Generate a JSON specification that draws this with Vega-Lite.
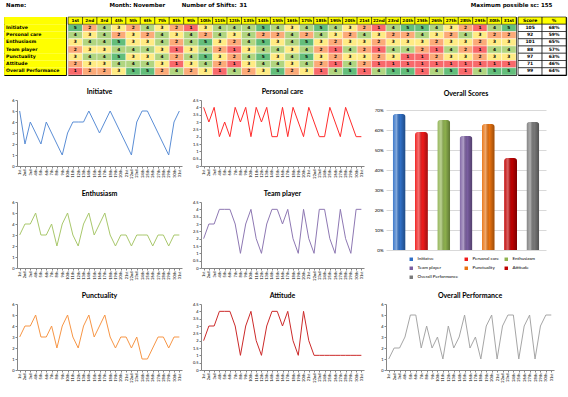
{
"$schema": "https://vega.github.io/schema/vega-lite/v6.json",
"padding": {"left": 3, "top": 1, "right": 3, "bottom": 0},
"background": "#ffffff",
"config": {
  "view": {"stroke": null},
  "font": "Lato",
  "title": {"font": "Lato", "fontWeight": "bold", "fontSize": 7, "color": "#000000", "offset": 3},
  "axis": {"labelFont": "Lato", "labelFontSize": 4, "labelColor": "#000000", "domainColor": "#868686", "tickColor": "#868686", "tickSize": 2, "labelPadding": 1, "grid": false, "labelOverlap": false}
},
"datasets": {
  "days": [{"day":"1st"},{"day":"2nd"},{"day":"3rd"},{"day":"4th"},{"day":"5th"},{"day":"6th"},{"day":"7th"},{"day":"8th"},{"day":"9th"},{"day":"10th"},{"day":"11th"},{"day":"12th"},{"day":"13th"},{"day":"14th"},{"day":"15th"},{"day":"16th"},{"day":"17th"},{"day":"18th"},{"day":"19th"},{"day":"20th"},{"day":"21st"},{"day":"22nd"},{"day":"23rd"},{"day":"24th"},{"day":"25th"},{"day":"26th"},{"day":"27th"},{"day":"28th"},{"day":"29th"},{"day":"30th"},{"day":"31st"}],
  "summary": [
    {"metric":"Initiatve","score":105,"share":0.68},
    {"metric":"Personal care","score":92,"share":0.59},
    {"metric":"Enthusiasm","score":101,"share":0.65},
    {"metric":"Team player","score":88,"share":0.57},
    {"metric":"Punctuality","score":97,"share":0.63},
    {"metric":"Attitude","score":71,"share":0.46},
    {"metric":"Overall Performance","score":99,"share":0.64}
  ],
  "scores": [
{"metric":"Initiatve","day":"1st","value":5},{"metric":"Initiatve","day":"2nd","value":2},{"metric":"Initiatve","day":"3rd","value":4},{"metric":"Initiatve","day":"4th","value":3},{"metric":"Initiatve","day":"5th","value":2},{"metric":"Initiatve","day":"6th","value":4},{"metric":"Initiatve","day":"7th","value":3},{"metric":"Initiatve","day":"8th","value":2},{"metric":"Initiatve","day":"9th","value":1},{"metric":"Initiatve","day":"10th","value":3},{"metric":"Initiatve","day":"11th","value":4},{"metric":"Initiatve","day":"12th","value":4},{"metric":"Initiatve","day":"13th","value":4},{"metric":"Initiatve","day":"14th","value":5},{"metric":"Initiatve","day":"15th","value":4},{"metric":"Initiatve","day":"16th","value":3},{"metric":"Initiatve","day":"17th","value":4},{"metric":"Initiatve","day":"18th","value":5},{"metric":"Initiatve","day":"19th","value":4},{"metric":"Initiatve","day":"20th","value":3},{"metric":"Initiatve","day":"21st","value":2},{"metric":"Initiatve","day":"22nd","value":1},{"metric":"Initiatve","day":"23rd","value":4},{"metric":"Initiatve","day":"24th","value":5},{"metric":"Initiatve","day":"25th","value":5},{"metric":"Initiatve","day":"26th","value":4},{"metric":"Initiatve","day":"27th","value":3},{"metric":"Initiatve","day":"28th","value":2},{"metric":"Initiatve","day":"29th","value":1},{"metric":"Initiatve","day":"30th","value":4},{"metric":"Initiatve","day":"31st","value":5},
{"metric":"Personal care","day":"1st","value":4},{"metric":"Personal care","day":"2nd","value":3},{"metric":"Personal care","day":"3rd","value":4},{"metric":"Personal care","day":"4th","value":2},{"metric":"Personal care","day":"5th","value":3},{"metric":"Personal care","day":"6th","value":2},{"metric":"Personal care","day":"7th","value":4},{"metric":"Personal care","day":"8th","value":3},{"metric":"Personal care","day":"9th","value":4},{"metric":"Personal care","day":"10th","value":2},{"metric":"Personal care","day":"11th","value":4},{"metric":"Personal care","day":"12th","value":3},{"metric":"Personal care","day":"13th","value":4},{"metric":"Personal care","day":"14th","value":2},{"metric":"Personal care","day":"15th","value":2},{"metric":"Personal care","day":"16th","value":4},{"metric":"Personal care","day":"17th","value":2},{"metric":"Personal care","day":"18th","value":4},{"metric":"Personal care","day":"19th","value":3},{"metric":"Personal care","day":"20th","value":2},{"metric":"Personal care","day":"21st","value":4},{"metric":"Personal care","day":"22nd","value":3},{"metric":"Personal care","day":"23rd","value":2},{"metric":"Personal care","day":"24th","value":2},{"metric":"Personal care","day":"25th","value":4},{"metric":"Personal care","day":"26th","value":3},{"metric":"Personal care","day":"27th","value":2},{"metric":"Personal care","day":"28th","value":4},{"metric":"Personal care","day":"29th","value":3},{"metric":"Personal care","day":"30th","value":2},{"metric":"Personal care","day":"31st","value":2},
{"metric":"Enthusiasm","day":"1st","value":3},{"metric":"Enthusiasm","day":"2nd","value":4},{"metric":"Enthusiasm","day":"3rd","value":4},{"metric":"Enthusiasm","day":"4th","value":5},{"metric":"Enthusiasm","day":"5th","value":3},{"metric":"Enthusiasm","day":"6th","value":3},{"metric":"Enthusiasm","day":"7th","value":4},{"metric":"Enthusiasm","day":"8th","value":2},{"metric":"Enthusiasm","day":"9th","value":4},{"metric":"Enthusiasm","day":"10th","value":5},{"metric":"Enthusiasm","day":"11th","value":3},{"metric":"Enthusiasm","day":"12th","value":2},{"metric":"Enthusiasm","day":"13th","value":4},{"metric":"Enthusiasm","day":"14th","value":5},{"metric":"Enthusiasm","day":"15th","value":3},{"metric":"Enthusiasm","day":"16th","value":4},{"metric":"Enthusiasm","day":"17th","value":5},{"metric":"Enthusiasm","day":"18th","value":3},{"metric":"Enthusiasm","day":"19th","value":2},{"metric":"Enthusiasm","day":"20th","value":3},{"metric":"Enthusiasm","day":"21st","value":3},{"metric":"Enthusiasm","day":"22nd","value":2},{"metric":"Enthusiasm","day":"23rd","value":3},{"metric":"Enthusiasm","day":"24th","value":3},{"metric":"Enthusiasm","day":"25th","value":3},{"metric":"Enthusiasm","day":"26th","value":2},{"metric":"Enthusiasm","day":"27th","value":3},{"metric":"Enthusiasm","day":"28th","value":3},{"metric":"Enthusiasm","day":"29th","value":2},{"metric":"Enthusiasm","day":"30th","value":3},{"metric":"Enthusiasm","day":"31st","value":3},
{"metric":"Team player","day":"1st","value":2},{"metric":"Team player","day":"2nd","value":3},{"metric":"Team player","day":"3rd","value":3},{"metric":"Team player","day":"4th","value":4},{"metric":"Team player","day":"5th","value":4},{"metric":"Team player","day":"6th","value":4},{"metric":"Team player","day":"7th","value":3},{"metric":"Team player","day":"8th","value":1},{"metric":"Team player","day":"9th","value":3},{"metric":"Team player","day":"10th","value":4},{"metric":"Team player","day":"11th","value":2},{"metric":"Team player","day":"12th","value":1},{"metric":"Team player","day":"13th","value":3},{"metric":"Team player","day":"14th","value":4},{"metric":"Team player","day":"15th","value":4},{"metric":"Team player","day":"16th","value":3},{"metric":"Team player","day":"17th","value":4},{"metric":"Team player","day":"18th","value":2},{"metric":"Team player","day":"19th","value":1},{"metric":"Team player","day":"20th","value":4},{"metric":"Team player","day":"21st","value":2},{"metric":"Team player","day":"22nd","value":1},{"metric":"Team player","day":"23rd","value":4},{"metric":"Team player","day":"24th","value":4},{"metric":"Team player","day":"25th","value":2},{"metric":"Team player","day":"26th","value":1},{"metric":"Team player","day":"27th","value":4},{"metric":"Team player","day":"28th","value":2},{"metric":"Team player","day":"29th","value":1},{"metric":"Team player","day":"30th","value":4},{"metric":"Team player","day":"31st","value":4},
{"metric":"Punctuality","day":"1st","value":3},{"metric":"Punctuality","day":"2nd","value":4},{"metric":"Punctuality","day":"3rd","value":4},{"metric":"Punctuality","day":"4th","value":5},{"metric":"Punctuality","day":"5th","value":3},{"metric":"Punctuality","day":"6th","value":3},{"metric":"Punctuality","day":"7th","value":4},{"metric":"Punctuality","day":"8th","value":2},{"metric":"Punctuality","day":"9th","value":4},{"metric":"Punctuality","day":"10th","value":5},{"metric":"Punctuality","day":"11th","value":3},{"metric":"Punctuality","day":"12th","value":2},{"metric":"Punctuality","day":"13th","value":4},{"metric":"Punctuality","day":"14th","value":5},{"metric":"Punctuality","day":"15th","value":3},{"metric":"Punctuality","day":"16th","value":4},{"metric":"Punctuality","day":"17th","value":5},{"metric":"Punctuality","day":"18th","value":3},{"metric":"Punctuality","day":"19th","value":2},{"metric":"Punctuality","day":"20th","value":3},{"metric":"Punctuality","day":"21st","value":3},{"metric":"Punctuality","day":"22nd","value":2},{"metric":"Punctuality","day":"23rd","value":3},{"metric":"Punctuality","day":"24th","value":1},{"metric":"Punctuality","day":"25th","value":1},{"metric":"Punctuality","day":"26th","value":2},{"metric":"Punctuality","day":"27th","value":3},{"metric":"Punctuality","day":"28th","value":3},{"metric":"Punctuality","day":"29th","value":2},{"metric":"Punctuality","day":"30th","value":3},{"metric":"Punctuality","day":"31st","value":3},
{"metric":"Attitude","day":"1st","value":2},{"metric":"Attitude","day":"2nd","value":3},{"metric":"Attitude","day":"3rd","value":3},{"metric":"Attitude","day":"4th","value":4},{"metric":"Attitude","day":"5th","value":4},{"metric":"Attitude","day":"6th","value":4},{"metric":"Attitude","day":"7th","value":3},{"metric":"Attitude","day":"8th","value":1},{"metric":"Attitude","day":"9th","value":3},{"metric":"Attitude","day":"10th","value":4},{"metric":"Attitude","day":"11th","value":2},{"metric":"Attitude","day":"12th","value":1},{"metric":"Attitude","day":"13th","value":3},{"metric":"Attitude","day":"14th","value":4},{"metric":"Attitude","day":"15th","value":4},{"metric":"Attitude","day":"16th","value":3},{"metric":"Attitude","day":"17th","value":4},{"metric":"Attitude","day":"18th","value":2},{"metric":"Attitude","day":"19th","value":1},{"metric":"Attitude","day":"20th","value":4},{"metric":"Attitude","day":"21st","value":2},{"metric":"Attitude","day":"22nd","value":1},{"metric":"Attitude","day":"23rd","value":1},{"metric":"Attitude","day":"24th","value":1},{"metric":"Attitude","day":"25th","value":1},{"metric":"Attitude","day":"26th","value":1},{"metric":"Attitude","day":"27th","value":1},{"metric":"Attitude","day":"28th","value":1},{"metric":"Attitude","day":"29th","value":1},{"metric":"Attitude","day":"30th","value":1},{"metric":"Attitude","day":"31st","value":1},
{"metric":"Overall Performance","day":"1st","value":1},{"metric":"Overall Performance","day":"2nd","value":2},{"metric":"Overall Performance","day":"3rd","value":2},{"metric":"Overall Performance","day":"4th","value":3},{"metric":"Overall Performance","day":"5th","value":5},{"metric":"Overall Performance","day":"6th","value":5},{"metric":"Overall Performance","day":"7th","value":2},{"metric":"Overall Performance","day":"8th","value":4},{"metric":"Overall Performance","day":"9th","value":2},{"metric":"Overall Performance","day":"10th","value":3},{"metric":"Overall Performance","day":"11th","value":1},{"metric":"Overall Performance","day":"12th","value":4},{"metric":"Overall Performance","day":"13th","value":2},{"metric":"Overall Performance","day":"14th","value":3},{"metric":"Overall Performance","day":"15th","value":5},{"metric":"Overall Performance","day":"16th","value":2},{"metric":"Overall Performance","day":"17th","value":3},{"metric":"Overall Performance","day":"18th","value":1},{"metric":"Overall Performance","day":"19th","value":4},{"metric":"Overall Performance","day":"20th","value":5},{"metric":"Overall Performance","day":"21st","value":1},{"metric":"Overall Performance","day":"22nd","value":4},{"metric":"Overall Performance","day":"23rd","value":5},{"metric":"Overall Performance","day":"24th","value":5},{"metric":"Overall Performance","day":"25th","value":1},{"metric":"Overall Performance","day":"26th","value":4},{"metric":"Overall Performance","day":"27th","value":5},{"metric":"Overall Performance","day":"28th","value":1},{"metric":"Overall Performance","day":"29th","value":4},{"metric":"Overall Performance","day":"30th","value":5},{"metric":"Overall Performance","day":"31st","value":5}
  ]
},
"resolve": {"scale": {"color": "independent", "fill": "independent"}, "legend": {"color": "independent", "fill": "independent"}},
"center": true,
"spacing": 12,
"vconcat": [
 {"spacing": 7, "vconcat": [
   {"spacing": 0, "hconcat": [
     {"width": 62, "height": 8, "data": {"values": [{"t": "Name:"}]},
      "mark": {"type": "text", "align": "left", "baseline": "middle", "font": "DejaVu Sans", "fontWeight": "bold", "fontSize": 5.5, "dx": 2},
      "encoding": {"text": {"field": "t"}, "x": {"datum": "c", "type": "nominal", "scale": {"type": "band", "domain": ["c"], "padding": 0}, "bandPosition": 0, "axis": null}}},
     {"width": 448, "height": 8,
      "data": {"values": [{"day": "4th", "t": "Month: November"}, {"day": "9th", "t": "Number of Shifts:"}, {"day": "13th", "t": "31"}, {"day": "29th", "t": "Maximum possible sc: 155"}]},
      "mark": {"type": "text", "align": "left", "baseline": "middle", "font": "DejaVu Sans", "fontWeight": "bold", "fontSize": 5.5},
      "encoding": {"text": {"field": "t"}, "x": {"field": "day", "type": "ordinal", "scale": {"type": "band", "domain": ["1st","2nd","3rd","4th","5th","6th","7th","8th","9th","10th","11th","12th","13th","14th","15th","16th","17th","18th","19th","20th","21st","22nd","23rd","24th","25th","26th","27th","28th","29th","30th","31st"], "padding": 0}, "bandPosition": 0, "axis": null}}}
   ]},
   {"spacing": 0, "hconcat": [
     {"width": 62, "height": 58, "view": {"stroke": "#000000", "strokeWidth": 1},
      "data": {"values": [{"row": "hdr", "label": ""}, {"row": "Initiatve", "label": "Initiatve"}, {"row": "Personal care", "label": "Personal care"}, {"row": "Enthusiasm", "label": "Enthusiasm"}, {"row": "Team player", "label": "Team player"}, {"row": "Punctuality", "label": "Punctuality"}, {"row": "Attitude", "label": "Attitude"}, {"row": "Overall Performance", "label": "Overall Performance"}]},
      "encoding": {
        "y": {"field": "row", "type": "nominal", "scale": {"type": "band", "domain": ["hdr","Initiatve","Personal care","Enthusiasm","Team player","Punctuality","Attitude","Overall Performance"], "padding": 0}, "axis": null},
        "x": {"datum": "c", "type": "nominal", "scale": {"type": "band", "domain": ["c"], "padding": 0}, "bandPosition": 0, "axis": null}
      },
      "layer": [
        {"mark": {"type": "rect", "fill": "#ffff00"}, "encoding": {"x": {"datum": "c", "type": "nominal"}}},
        {"mark": {"type": "text", "align": "left", "baseline": "middle", "font": "DejaVu Sans", "fontWeight": "bold", "fontSize": 4.6, "dx": 2, "color": "#000000"}, "encoding": {"text": {"field": "label"}}}
      ]},
     {"width": 448, "height": 58, "view": {"stroke": "#000000", "strokeWidth": 1},
      "layer": [
        {"data": {"name": "scores"},
         "mark": {"type": "rect", "stroke": "#ffffff", "strokeWidth": 0.4},
         "encoding": {
           "x": {"field": "day", "type": "ordinal", "scale": {"type": "band", "domain": ["1st","2nd","3rd","4th","5th","6th","7th","8th","9th","10th","11th","12th","13th","14th","15th","16th","17th","18th","19th","20th","21st","22nd","23rd","24th","25th","26th","27th","28th","29th","30th","31st"], "padding": 0}, "axis": null},
           "y": {"field": "metric", "type": "nominal", "scale": {"type": "band", "domain": ["hdr","Initiatve","Personal care","Enthusiasm","Team player","Punctuality","Attitude","Overall Performance"], "padding": 0}, "axis": null},
           "fill": {"field": "value", "type": "quantitative", "scale": {"domain": [1, 3, 5], "range": ["#f8696b", "#ffeb84", "#63be7b"], "interpolate": "rgb"}, "legend": null}
         }},
        {"data": {"name": "scores"},
         "mark": {"type": "text", "font": "DejaVu Sans", "fontWeight": "bold", "fontSize": 4.3, "color": "#000000", "baseline": "middle"},
         "encoding": {
           "x": {"field": "day", "type": "ordinal"},
           "y": {"field": "metric", "type": "nominal"},
           "text": {"field": "value", "type": "quantitative"}
         }},
        {"data": {"name": "days"},
         "mark": {"type": "rect", "fill": "#ffff00", "stroke": "#000000", "strokeWidth": 0.5},
         "encoding": {"x": {"field": "day", "type": "ordinal"}, "y": {"datum": "hdr", "type": "nominal"}}},
        {"data": {"name": "days"},
         "mark": {"type": "text", "font": "DejaVu Sans", "fontWeight": "bold", "fontSize": 4.2, "color": "#000000", "baseline": "middle"},
         "encoding": {"x": {"field": "day", "type": "ordinal"}, "y": {"datum": "hdr", "type": "nominal"}, "text": {"field": "day"}}}
      ]},
     {"width": 48, "height": 58, "view": {"stroke": "#000000", "strokeWidth": 1},
      "layer": [
        {"data": {"values": [{"col": "Score"}, {"col": "%"}]},
         "mark": {"type": "rect", "fill": "#ffff00", "stroke": "#000000", "strokeWidth": 0.6},
         "encoding": {
           "x": {"field": "col", "type": "nominal", "scale": {"type": "band", "domain": ["Score", "%"], "padding": 0}, "axis": null},
           "y": {"datum": "hdr", "type": "nominal", "scale": {"type": "band", "domain": ["hdr","Initiatve","Personal care","Enthusiasm","Team player","Punctuality","Attitude","Overall Performance"], "padding": 0}, "axis": null}
         }},
        {"data": {"values": [{"col": "Score"}, {"col": "%"}]},
         "mark": {"type": "text", "font": "DejaVu Sans", "fontWeight": "bold", "fontSize": 4.5, "color": "#000000", "baseline": "middle"},
         "encoding": {"x": {"field": "col", "type": "nominal"}, "y": {"datum": "hdr", "type": "nominal"}, "text": {"field": "col"}}},
        {"data": {"name": "summary"},
         "mark": {"type": "rect", "fill": "#ffffff", "stroke": "#000000", "strokeWidth": 0.6},
         "encoding": {"x": {"datum": "Score", "type": "nominal"}, "y": {"field": "metric", "type": "nominal"}}},
        {"data": {"name": "summary"},
         "mark": {"type": "rect", "fill": "#ffffff", "stroke": "#000000", "strokeWidth": 0.6},
         "encoding": {"x": {"datum": "%", "type": "nominal"}, "y": {"field": "metric", "type": "nominal"}}},
        {"data": {"name": "summary"},
         "mark": {"type": "text", "font": "DejaVu Sans", "fontWeight": "bold", "fontSize": 4.5, "color": "#000000", "baseline": "middle"},
         "encoding": {"x": {"datum": "Score", "type": "nominal"}, "y": {"field": "metric", "type": "nominal"}, "text": {"field": "score", "type": "quantitative"}}},
        {"data": {"name": "summary"},
         "mark": {"type": "text", "font": "DejaVu Sans", "fontWeight": "bold", "fontSize": 4.5, "color": "#000000", "baseline": "middle"},
         "encoding": {"x": {"datum": "%", "type": "nominal"}, "y": {"field": "metric", "type": "nominal"}, "text": {"field": "share", "type": "quantitative", "format": ".0%"}}}
      ]}
   ]}
 ]},
 {"spacing": 10, "resolve": {"scale": {"color": "independent"}, "legend": {"color": "independent"}}, "hconcat": [
   {"spacing": 11, "vconcat": [
     {"title": "Initiatve", "width": 165, "height": 66, "data": {"name": "scores"}, "transform": [{"filter": "datum.metric === 'Initiatve'"}],
      "mark": {"type": "line", "color": "#5b8ed6", "strokeWidth": 1},
      "encoding": {
        "x": {"field": "day", "type": "ordinal", "scale": {"type": "point", "domain": ["1st","2nd","3rd","4th","5th","6th","7th","8th","9th","10th","11th","12th","13th","14th","15th","16th","17th","18th","19th","20th","21st","22nd","23rd","24th","25th","26th","27th","28th","29th","30th","31st"], "padding": 0.5}, "axis": {"labelAngle": -90, "title": null}},
        "y": {"field": "value", "type": "quantitative", "scale": {"domain": [0, 6], "nice": false}, "axis": {"values": [0,1,2,3,4,5,6], "format": "~g", "title": null}}
      }},
     {"title": "Enthusiasm", "width": 165, "height": 66, "data": {"name": "scores"}, "transform": [{"filter": "datum.metric === 'Enthusiasm'"}],
      "mark": {"type": "line", "color": "#a9c86c", "strokeWidth": 1},
      "encoding": {
        "x": {"field": "day", "type": "ordinal", "scale": {"type": "point", "domain": ["1st","2nd","3rd","4th","5th","6th","7th","8th","9th","10th","11th","12th","13th","14th","15th","16th","17th","18th","19th","20th","21st","22nd","23rd","24th","25th","26th","27th","28th","29th","30th","31st"], "padding": 0.5}, "axis": {"labelAngle": -90, "title": null}},
        "y": {"field": "value", "type": "quantitative", "scale": {"domain": [0, 6], "nice": false}, "axis": {"values": [0,1,2,3,4,5,6], "format": "~g", "title": null}}
      }},
     {"title": "Punctuality", "width": 165, "height": 66, "data": {"name": "scores"}, "transform": [{"filter": "datum.metric === 'Punctuality'"}],
      "mark": {"type": "line", "color": "#f79646", "strokeWidth": 1},
      "encoding": {
        "x": {"field": "day", "type": "ordinal", "scale": {"type": "point", "domain": ["1st","2nd","3rd","4th","5th","6th","7th","8th","9th","10th","11th","12th","13th","14th","15th","16th","17th","18th","19th","20th","21st","22nd","23rd","24th","25th","26th","27th","28th","29th","30th","31st"], "padding": 0.5}, "axis": {"labelAngle": -90, "title": null}},
        "y": {"field": "value", "type": "quantitative", "scale": {"domain": [0, 6], "nice": false}, "axis": {"values": [0,1,2,3,4,5,6], "format": "~g", "title": null}}
      }}
   ]},
   {"spacing": 11, "vconcat": [
     {"title": "Personal care", "width": 163, "height": 66, "data": {"name": "scores"}, "transform": [{"filter": "datum.metric === 'Personal care'"}],
      "mark": {"type": "line", "color": "#ff2b2b", "strokeWidth": 1},
      "encoding": {
        "x": {"field": "day", "type": "ordinal", "scale": {"type": "point", "domain": ["1st","2nd","3rd","4th","5th","6th","7th","8th","9th","10th","11th","12th","13th","14th","15th","16th","17th","18th","19th","20th","21st","22nd","23rd","24th","25th","26th","27th","28th","29th","30th","31st"], "padding": 0.5}, "axis": {"labelAngle": -90, "title": null}},
        "y": {"field": "value", "type": "quantitative", "scale": {"domain": [0, 4.5], "nice": false}, "axis": {"values": [0,0.5,1,1.5,2,2.5,3,3.5,4,4.5], "format": "~g", "title": null}}
      }},
     {"title": "Team player", "width": 163, "height": 66, "data": {"name": "scores"}, "transform": [{"filter": "datum.metric === 'Team player'"}],
      "mark": {"type": "line", "color": "#8e78b3", "strokeWidth": 1},
      "encoding": {
        "x": {"field": "day", "type": "ordinal", "scale": {"type": "point", "domain": ["1st","2nd","3rd","4th","5th","6th","7th","8th","9th","10th","11th","12th","13th","14th","15th","16th","17th","18th","19th","20th","21st","22nd","23rd","24th","25th","26th","27th","28th","29th","30th","31st"], "padding": 0.5}, "axis": {"labelAngle": -90, "title": null}},
        "y": {"field": "value", "type": "quantitative", "scale": {"domain": [0, 4.5], "nice": false}, "axis": {"values": [0,0.5,1,1.5,2,2.5,3,3.5,4,4.5], "format": "~g", "title": null}}
      }},
     {"title": "Attitude", "width": 163, "height": 66, "data": {"name": "scores"}, "transform": [{"filter": "datum.metric === 'Attitude'"}],
      "mark": {"type": "line", "color": "#cc2a2a", "strokeWidth": 1},
      "encoding": {
        "x": {"field": "day", "type": "ordinal", "scale": {"type": "point", "domain": ["1st","2nd","3rd","4th","5th","6th","7th","8th","9th","10th","11th","12th","13th","14th","15th","16th","17th","18th","19th","20th","21st","22nd","23rd","24th","25th","26th","27th","28th","29th","30th","31st"], "padding": 0.5}, "axis": {"labelAngle": -90, "title": null}},
        "y": {"field": "value", "type": "quantitative", "scale": {"domain": [0, 4.5], "nice": false}, "axis": {"values": [0,0.5,1,1.5,2,2.5,3,3.5,4,4.5], "format": "~g", "title": null}}
      }}
   ]},
   {"spacing": 13, "resolve": {"scale": {"color": "independent"}, "legend": {"color": "independent"}}, "vconcat": [
     {"title": "Overall Scores", "width": 160, "height": 150, "data": {"name": "summary"},
      "encoding": {
        "x": {"field": "metric", "type": "nominal", "scale": {"domain": ["Initiatve","Personal care","Enthusiasm","Team player","Punctuality","Attitude","Overall Performance"], "paddingInner": 0.42, "paddingOuter": 0.3}, "axis": null},
        "y": {"field": "share", "type": "quantitative", "scale": {"domain": [0, 0.75], "nice": false}, "axis": {"values": [0,0.1,0.2,0.3,0.4,0.5,0.6,0.7], "format": ".0%", "grid": true, "gridColor": "#bfbfbf", "gridWidth": 0.6, "domain": false, "ticks": false, "labelFontSize": 4.5, "labelPadding": 3, "title": null}}
      },
      "layer": [
        {"mark": {"type": "bar", "cornerRadiusTopLeft": 3, "cornerRadiusTopRight": 3},
         "encoding": {"color": {"field": "metric", "type": "nominal",
           "scale": {"domain": ["Initiatve","Personal care","Enthusiasm","Team player","Punctuality","Attitude","Overall Performance"], "range": ["#2f6fc6", "#f01a1a", "#8fb34f", "#7a5ea0", "#e8720f", "#c00000", "#7a7a7a"]},
           "legend": {"title": null, "orient": "none", "direction": "horizontal", "legendX": 23, "legendY": 157, "columns": 3, "symbolType": "square", "symbolSize": 12, "labelFontSize": 4.5, "labelColor": "#000000", "columnPadding": 5, "rowPadding": 4, "symbolStrokeWidth": 0}}}},
        {"mark": {"type": "bar", "cornerRadiusTopLeft": 3, "cornerRadiusTopRight": 3,
          "color": {"gradient": "linear", "x1": 0, "y1": 0, "x2": 1, "y2": 0, "stops": [{"offset": 0, "color": "rgba(255,255,255,0.05)"}, {"offset": 0.3, "color": "rgba(255,255,255,0.4)"}, {"offset": 0.6, "color": "rgba(0,0,0,0)"}, {"offset": 1, "color": "rgba(0,0,0,0.35)"}]}}}
      ]},
     {"title": "Overall Performance", "width": 168, "height": 66, "data": {"name": "scores"}, "transform": [{"filter": "datum.metric === 'Overall Performance'"}],
      "mark": {"type": "line", "color": "#a6a6a6", "strokeWidth": 1},
      "encoding": {
        "x": {"field": "day", "type": "ordinal", "scale": {"type": "point", "domain": ["1st","2nd","3rd","4th","5th","6th","7th","8th","9th","10th","11th","12th","13th","14th","15th","16th","17th","18th","19th","20th","21st","22nd","23rd","24th","25th","26th","27th","28th","29th","30th","31st"], "padding": 0.5}, "axis": {"labelAngle": -90, "title": null}},
        "y": {"field": "value", "type": "quantitative", "scale": {"domain": [0, 6], "nice": false}, "axis": {"values": [0,1,2,3,4,5,6], "format": "~g", "title": null}}
      }}
   ]}
 ]}
]
}
